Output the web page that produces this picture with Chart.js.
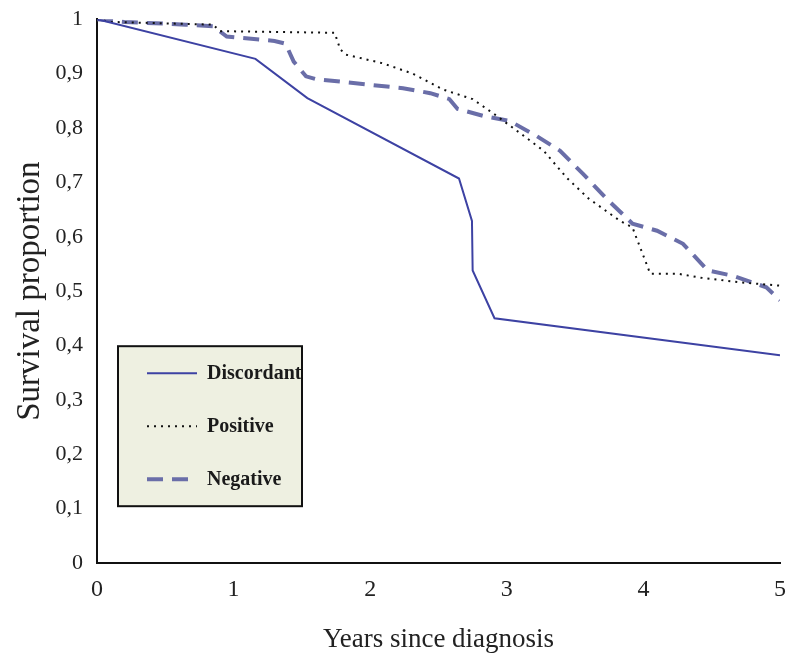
<!DOCTYPE html>
<html>
<head>
<meta charset="utf-8">
<script src="https://cdn.jsdelivr.net/npm/chart.js@4"></script>
<style>
  body { margin: 0; background: #fff; }
</style>
</head>
<body>
<canvas id="survivalChart" width="794" height="660"></canvas>
<script>
// survival curves
let discordantX = [0, 1.16, 1.54, 2.65, 2.745, 2.75, 2.91, 5]
let discordantY = [1, 0.927, 0.855, 0.707, 0.629, 0.538, 0.45, 0.382]

let positiveX = [0, 0.1, 0.85, 0.9, 1.74, 1.78, 1.82, 2.09, 2.31, 2.44, 2.53, 2.75, 2.9, 3.1, 3.27, 3.44, 3.6, 3.83, 3.92, 4.05, 4.25, 4.41, 4.71, 5]
let positiveY = [1, 0.995, 0.99, 0.978, 0.975, 0.945, 0.935, 0.919, 0.9, 0.883, 0.871, 0.853, 0.827, 0.79, 0.758, 0.708, 0.67, 0.629, 0.617, 0.532, 0.532, 0.525, 0.516, 0.51]

let negativeX = [0, 0.2, 0.65, 0.85, 0.95, 1.3, 1.38, 1.44, 1.53, 1.6, 2.24, 2.44, 2.58, 2.64, 2.83, 3.02, 3.22, 3.39, 3.56, 3.73, 3.92, 4.1, 4.29, 4.47, 4.66, 4.9, 5]
let negativeY = [1, 0.995, 0.99, 0.987, 0.968, 0.96, 0.955, 0.922, 0.895, 0.89, 0.873, 0.864, 0.853, 0.835, 0.822, 0.813, 0.785, 0.758, 0.715, 0.67, 0.624, 0.611, 0.587, 0.538, 0.528, 0.507, 0.483]

let seriesNames = ["Discordant", "Positive", "Negative"]
let xTicks = [0, 1, 2, 3, 4, 5]
let yTicks = [0, 0.1, 0.2, 0.3, 0.4, 0.5, 0.6, 0.7, 0.8, 0.9, 1]

function toPoints(xs, ys) {
    return xs.map(function (x, i) { return { x: x, y: ys[i] } })
}

const serif = "'Liberation Serif', 'DejaVu Serif', serif"

// legend box sitting inside the plot, lower left
const boxLegend = {
    id: "boxLegend",
    afterDatasetsDraw(chart) {
        let ctx = chart.ctx
        let area = chart.chartArea
        let left = area.left + 21
        let top = area.top + 327
        let w = 184
        let h = 160
        ctx.save()
        ctx.fillStyle = "#eef0e1"
        ctx.fillRect(left, top, w, h)
        ctx.strokeStyle = "#111"
        ctx.lineWidth = 2
        ctx.strokeRect(left, top, w, h)

        chart.data.datasets.forEach(function (ds, i) {
            let y = top + 27 + i * 53
            ctx.beginPath()
            ctx.strokeStyle = ds.borderColor
            ctx.lineWidth = ds.borderWidth
            ctx.setLineDash(ds.borderDash || [])
            ctx.moveTo(left + 29, y)
            ctx.lineTo(left + 79, y)
            ctx.stroke()
            ctx.setLineDash([])
            ctx.fillStyle = "#1a1a1a"
            ctx.font = "bold 20px " + serif
            ctx.textBaseline = "middle"
            ctx.fillText(ds.label, left + 89, y + 1)
        })
        ctx.restore()
    }
}

let ctx = document.getElementById("survivalChart").getContext("2d")
let chart = new Chart(ctx, {
    type: "line",
    data: {
        datasets: [{
            label: seriesNames[0],
            data: toPoints(discordantX, discordantY),
            borderColor: "#3d42a3",
            borderWidth: 2,
            pointRadius: 0,
            tension: 0
        }, {
            label: seriesNames[1],
            data: toPoints(positiveX, positiveY),
            borderColor: "#111111",
            borderWidth: 2,
            borderDash: [2, 5],
            pointRadius: 0,
            tension: 0
        }, {
            label: seriesNames[2],
            data: toPoints(negativeX, negativeY),
            borderColor: "#6a6ea8",
            borderWidth: 4,
            borderDash: [16, 9],
            pointRadius: 0,
            tension: 0
        }]
    },
    options: {
        responsive: false,
        animation: false,
        layout: { padding: { top: 18, right: 14, left: 0, bottom: 0 } },
        plugins: {
            legend: { display: false },
            tooltip: { enabled: false }
        },
        scales: {
            x: {
                type: "linear",
                min: 0,
                max: 5,
                afterBuildTicks(scale) { scale.ticks = xTicks.map(function (v) { return { value: v } }) },
                afterFit(scale) { scale.height = 97 },
                grid: { display: false },
                border: { display: true, color: "#111", width: 2 },
                ticks: { color: "#222", padding: 4, font: { family: serif, size: 24 } },
                title: {
                    display: true,
                    text: "Years since diagnosis",
                    color: "#222",
                    font: { family: serif, size: 27 },
                    padding: { top: 14 }
                }
            },
            y: {
                min: 0,
                max: 1,
                afterBuildTicks(scale) { scale.ticks = yTicks.map(function (v) { return { value: v } }) },
                afterFit(scale) { scale.width = 97 },
                grid: { display: false },
                border: { display: true, color: "#111", width: 2 },
                ticks: {
                    color: "#222",
                    padding: 6,
                    font: { family: serif, size: 22 },
                    callback: function (v) {
                        if (v === 0 || v === 1) return String(v)
                        return v.toFixed(1).replace(".", ",")
                    }
                },
                title: {
                    display: true,
                    text: "Survival proportion",
                    color: "#222",
                    font: { family: serif, size: 33 },
                    padding: { top: 11, bottom: 0 }
                }
            }
        }
    },
    plugins: [boxLegend]
})
</script>
</body>
</html>
